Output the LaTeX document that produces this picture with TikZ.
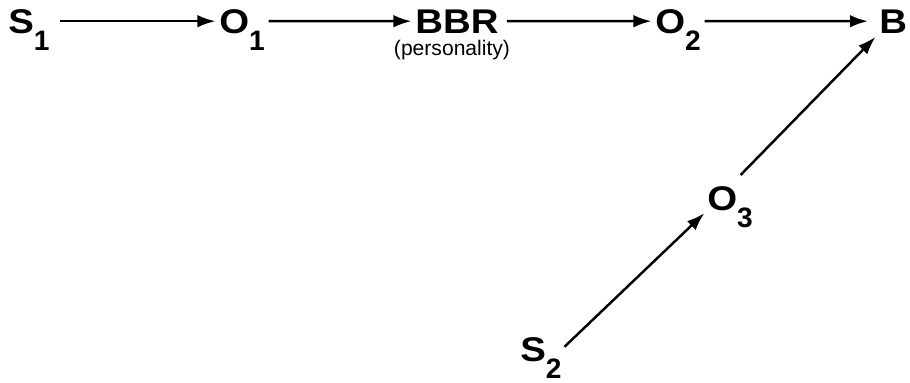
\documentclass[tikz,border=0pt]{standalone}
\usepackage{fontspec}
\setmainfont{Liberation Sans}
\usepackage{graphicx}
\usetikzlibrary{arrows.meta}
\newcommand{\vlab}[2]{\scalebox{1.12}[1]{\fontsize{19.5}{19.5}\selectfont\bfseries #1}%
  \raisebox{-10pt}[0pt][0pt]{\fontsize{16}{16}\selectfont\bfseries #2}}

\begin{document}
\begin{tikzpicture}[
  lab/.style={anchor=base west, inner sep=0pt},
  arr/.style={-{Latex[length=0.36cm,width=0.25cm]}, line width=1.4pt,
    shorten <=2pt, shorten >=2pt}]
  \useasboundingbox (0,0) rectangle (18.2,7.64);
  \coordinate (S1) at (0.16,6.98);
  \coordinate (O1) at (4.38,6.98);
  \coordinate (BBR) at (8.3,6.98);
  \coordinate (O2) at (13.1,6.98);
  \coordinate (B) at (17.58,6.98);
  \coordinate (O3) at (14.14,3.44);
  \coordinate (S2) at (10.4,0.42);
  \node[lab] (s1) at (S1) {\vlab{S}{1}};
  \node[lab] (o1) at (O1) {\vlab{O}{1}};
  \node[lab] (bbr) at (BBR) {\vlab{BBR}{}};
  \node[lab] (o2) at (O2) {\vlab{O}{2}};
  \node[lab] (b) at (B) {\vlab{B}{}};
  \node[lab] (o3) at (O3) {\vlab{O}{3}};
  \node[lab] (s2) at (S2) {\vlab{S}{2}};
  % label under BBR
  \node[anchor=base, inner sep=0pt, font=\fontsize{12}{12}\selectfont] (pers) at (9.04,6.53) {(personality)};
  \draw[arr, shorten <=0.2cm] (s1.east) -- (o1.west);
  \draw[arr] (o1.east) -- (bbr.west);
  \draw[arr, shorten <=0.16cm] (bbr.east) -- (o2.west);
  \draw[arr, shorten >=0.22cm] (o2.east) -- (b.west);
  \draw[arr] (s2.east) -- (o3.south west);
  \draw[arr, shorten <=0.3cm, shorten >=0.1cm] (o3.north) -- (b.south west);
\end{tikzpicture}
\end{document}
